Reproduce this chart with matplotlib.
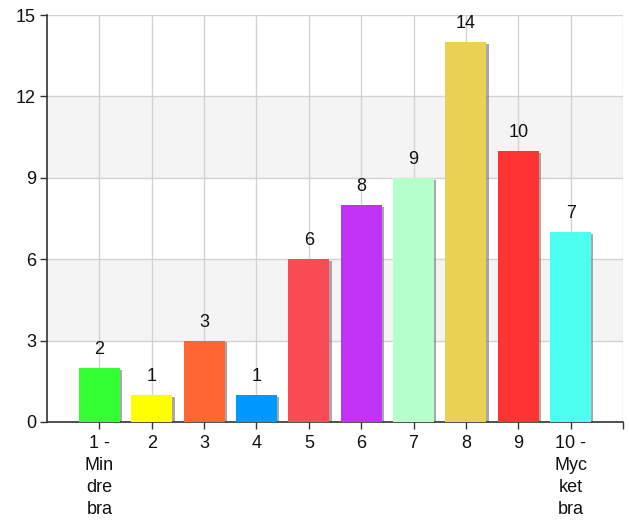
import matplotlib
matplotlib.use("Agg")
import matplotlib.pyplot as plt

categories = ["1 -\nMin\ndre\nbra", "2", "3", "4", "5", "6", "7", "8", "9", "10 -\nMyc\nket\nbra"]
values = [2, 1, 3, 1, 6, 8, 9, 14, 10, 7]
colors = ["#33ff33", "#ffff00", "#ff6633", "#0099ff", "#fa4b55",
          "#c033f5", "#b5ffcc", "#e8d153", "#ff3333", "#4dfff0"]
yticks = [0, 3, 6, 9, 12, 15]

plt.rcParams['font.family'] = ['Liberation Sans', 'DejaVu Sans']
fig = plt.figure(figsize=(6.29, 5.28), dpi=100)
ax = fig.add_axes([47/629, 1 - 422/528, (623-47)/629, (422-15)/528])

xs = list(range(len(values)))
ax.set_xlim(-1, 10)
ax.set_ylim(0, 15)

for i in range(len(yticks) - 1):
    if i % 2 == 1:
        ax.axhspan(yticks[i], yticks[i+1], color="#f4f4f4", zorder=0, lw=0)

ax.set_yticks(yticks)
ax.set_xticks(xs + [10])
ax.set_xticklabels(categories + [""], linespacing=1.4)
ax.grid(True, color="#d2d2d2", lw=1, zorder=1)
ax.set_axisbelow(True)

w = 0.78
for x, v in zip(xs, values):
    ax.bar(x + 0.045, v, width=w, bottom=-0.07, color="#707070", alpha=0.6, zorder=2, lw=0)
ax.bar(xs, values, width=w, color=colors, zorder=3, lw=0)

for x, v in zip(xs, values):
    ax.annotate(str(v), (x, v), xytext=(0, 7), textcoords="offset points",
                ha="center", va="bottom", fontsize=13, color="#111111", zorder=4)

for s in ["top", "right"]:
    ax.spines[s].set_visible(False)
for s in ["left", "bottom"]:
    ax.spines[s].set_color("#333333")
    ax.spines[s].set_linewidth(1.2)
ax.tick_params(axis="both", length=5, width=1, color="#333333", labelsize=13, labelcolor="#111111")
ax.tick_params(axis="x", pad=4)
ax.tick_params(axis="y", pad=3)

fig.savefig("out.png", dpi=100)
